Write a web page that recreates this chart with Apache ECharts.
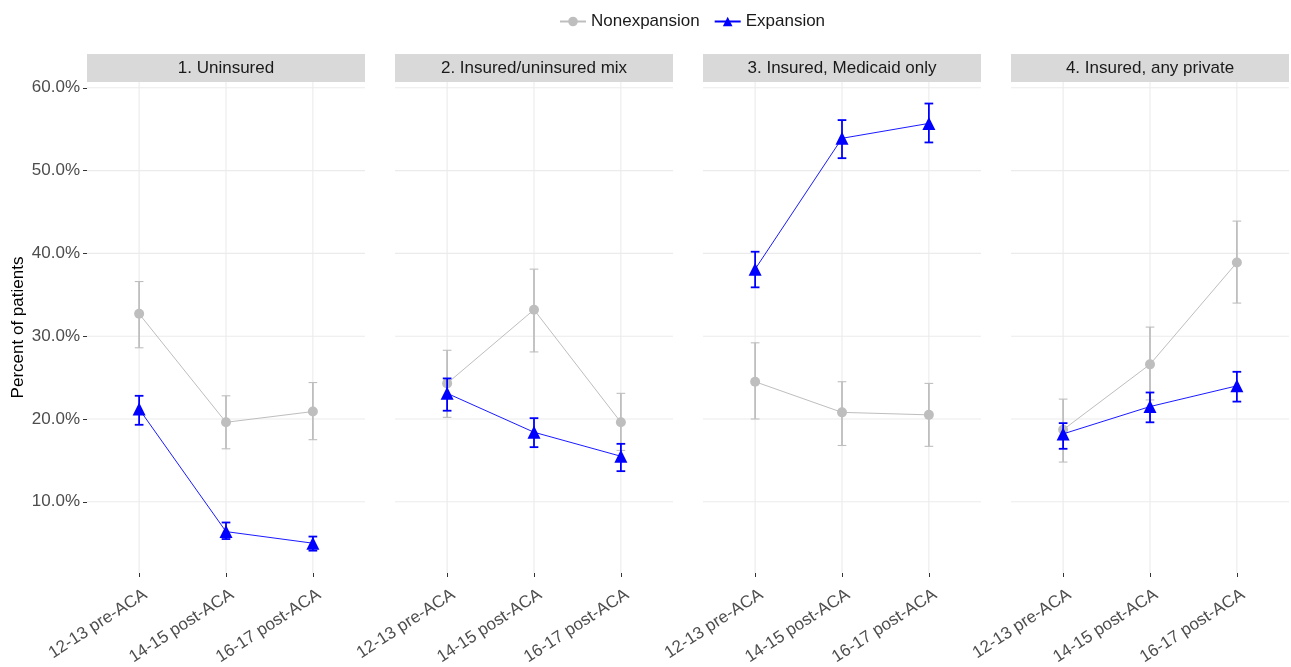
<!DOCTYPE html>
<html>
<head>
<meta charset="utf-8">
<script src="https://cdn.jsdelivr.net/npm/echarts@6/dist/echarts.min.js"></script>
<style>
html,body{margin:0;padding:0;background:#fff;}
#chart{width:1291px;height:667px;}
</style>
</head>
<body>
<div id="chart"></div>
<script>
// ---- data ----
const categories = ['12-13 pre-ACA', '14-15 post-ACA', '16-17 post-ACA'];
const panels = ['1. Uninsured', '2. Insured/uninsured mix', '3. Insured, Medicaid only', '4. Insured, any private'];
const yTicks = [10, 20, 30, 40, 50, 60];

const nonexpMean = [[32.7, 19.6, 20.9], [24.3, 33.2, 19.6], [24.5, 20.8, 20.5], [18.7, 26.6, 38.9]];
const nonexpLow  = [[28.6, 16.4, 17.5], [20.2, 28.1, 16.2], [20.0, 16.8, 16.7], [14.8, 22.3, 34.0]];
const nonexpHigh = [[36.6, 22.8, 24.4], [28.3, 38.1, 23.1], [29.2, 24.5, 24.3], [22.4, 31.1, 43.9]];

const expMean = [[21.2, 6.4, 5.0], [23.1, 18.4, 15.5], [38.1, 53.9, 55.7], [18.2, 21.5, 24.0]];
const expLow  = [[19.3, 5.5, 4.1], [21.0, 16.6, 13.7], [35.9, 51.5, 53.4], [16.4, 19.6, 22.1]];
const expHigh = [[22.8, 7.5, 5.8], [24.9, 20.1, 17.0], [40.2, 56.1, 58.1], [19.5, 23.2, 25.7]];

// ---- layout ----
const FONT = 'Liberation Sans, Arial, sans-serif';
const FS = 17;
const GRAY = '#bebebe';
const BLUE = '#0000ff';
const panelLeft0 = 87, panelStep = 308, panelW = 278, panelTop = 82, panelH = 491;
const catIdx = categories.map((c, j) => j);

const grids = [], xAxes = [], yAxes = [], series = [], graphics = [];

function errRender(color, vw, cw) {
  return function (params, api) {
    const x = api.value(0);
    const lo = api.coord([x, api.value(1)]);
    const hi = api.coord([x, api.value(2)]);
    const hw = api.size([0.1, 0])[0] / 2;
    return {
      type: 'group',
      children: [
        {type: 'line', shape: {x1: lo[0], y1: lo[1], x2: hi[0], y2: hi[1]}, style: {stroke: color, lineWidth: vw}},
        {type: 'line', shape: {x1: lo[0] - hw, y1: lo[1], x2: lo[0] + hw, y2: lo[1]}, style: {stroke: color, lineWidth: cw}},
        {type: 'line', shape: {x1: hi[0] - hw, y1: hi[1], x2: hi[0] + hw, y2: hi[1]}, style: {stroke: color, lineWidth: cw}}
      ]
    };
  };
}

panels.forEach((p, i) => {
  const left = panelLeft0 + i * panelStep;
  grids.push({left: left, top: panelTop, width: panelW, height: panelH, containLabel: false, outerBoundsMode: 'none'});
  xAxes.push({
    type: 'value', gridIndex: i, min: -0.6, max: 2.6,
    axisLine: {show: false, onZero: false},
    axisTick: {show: true, customValues: catIdx, length: 4, lineStyle: {color: '#333', width: 1}},
    axisLabel: {
      show: true, customValues: catIdx, rotate: 33, margin: 14,
      verticalAlign: 'top', padding: [0, -2, 0, 0],
      formatter: v => categories[Math.round(v)],
      fontSize: FS, color: '#4d4d4d', fontFamily: FONT
    },
    splitLine: {show: false}
  });
  yAxes.push({
    type: 'value', gridIndex: i, min: 1.4, max: 60.7,
    axisLine: {show: false, onZero: false},
    axisTick: {show: i === 0, customValues: yTicks, length: 4, lineStyle: {color: '#333', width: 1}},
    axisLabel: {
      show: i === 0, customValues: yTicks, margin: 7,
      formatter: v => v.toFixed(1) + '%',
      fontSize: FS, color: '#4d4d4d', fontFamily: FONT
    },
    splitLine: {show: false},
    name: i === 0 ? 'Percent of patients' : '',
    nameLocation: 'middle', nameGap: 60,
    nameTextStyle: {fontSize: FS, color: '#000', fontFamily: FONT}
  });

  // gridlines (horizontal)
  series.push({
    type: 'custom', xAxisIndex: i, yAxisIndex: i, silent: true, z: 0,
    data: yTicks.map(v => [0, v]),
    renderItem: function (params, api) {
      const cs = params.coordSys;
      const pt = api.coord([0, api.value(1)]);
      return {type: 'line', shape: {x1: cs.x, y1: pt[1], x2: cs.x + cs.width, y2: pt[1]},
        style: {stroke: '#ebebeb', lineWidth: 1.1}};
    }
  });
  // gridlines (vertical)
  series.push({
    type: 'custom', xAxisIndex: i, yAxisIndex: i, silent: true, z: 0,
    data: catIdx.map(j => [j, 30]),
    renderItem: function (params, api) {
      const cs = params.coordSys;
      const pt = api.coord([api.value(0), 30]);
      return {type: 'line', shape: {x1: pt[0], y1: cs.y, x2: pt[0], y2: cs.y + cs.height},
        style: {stroke: '#ebebeb', lineWidth: 1.1}};
    }
  });

  // Nonexpansion
  series.push({
    type: 'custom', xAxisIndex: i, yAxisIndex: i, silent: true, z: 2,
    data: catIdx.map(j => [j, nonexpLow[i][j], nonexpHigh[i][j]]),
    renderItem: errRender(GRAY, 1.8, 1.1)
  });
  series.push({
    type: 'line', name: 'Nonexpansion', xAxisIndex: i, yAxisIndex: i, z: 3,
    data: catIdx.map(j => [j, nonexpMean[i][j]]),
    symbol: 'circle', symbolSize: 10, showAllSymbol: true,
    itemStyle: {color: GRAY, borderWidth: 0},
    lineStyle: {color: GRAY, width: 1},
    emphasis: {disabled: true}
  });
  // Expansion
  series.push({
    type: 'custom', xAxisIndex: i, yAxisIndex: i, silent: true, z: 4,
    data: catIdx.map(j => [j, expLow[i][j], expHigh[i][j]]),
    renderItem: errRender(BLUE, 1.8, 1.8)
  });
  series.push({
    type: 'line', name: 'Expansion', xAxisIndex: i, yAxisIndex: i, z: 5,
    data: catIdx.map(j => [j, expMean[i][j]]),
    symbol: 'triangle', symbolSize: 13, showAllSymbol: true,
    itemStyle: {color: BLUE, borderWidth: 0},
    lineStyle: {color: BLUE, width: 0.9},
    emphasis: {disabled: true}
  });

  // strip
  graphics.push({
    type: 'rect', left: left, top: 54, shape: {width: panelW, height: 28},
    style: {fill: '#d9d9d9'}, silent: true
  });
  graphics.push({
    type: 'text', x: left + panelW / 2, y: 68,
    style: {text: p, fill: '#1a1a1a', font: FS + 'px ' + FONT, textAlign: 'center', textVerticalAlign: 'middle'},
    silent: true
  });
});

const chart = echarts.init(document.getElementById('chart'), null, {renderer: 'canvas'});
chart.setOption({
  animation: false,
  backgroundColor: '#fff',
  textStyle: {fontFamily: FONT},
  legend: {
    data: ['Nonexpansion', 'Expansion'],
    left: 554, top: 8,
    itemWidth: 26, itemHeight: 12, itemGap: 14,
    textStyle: {fontSize: FS, color: '#1a1a1a', fontFamily: FONT}
  },
  grid: grids,
  xAxis: xAxes,
  yAxis: yAxes,
  graphic: graphics,
  series: series
});
</script>
</body>
</html>
